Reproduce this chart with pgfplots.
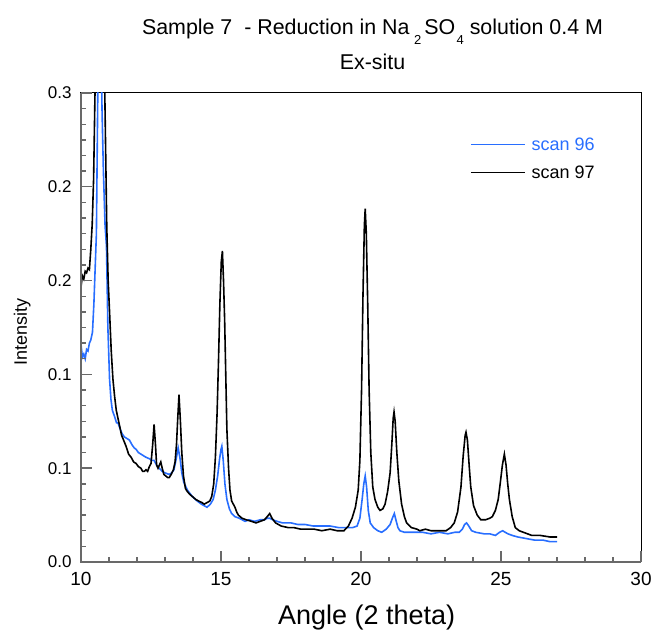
\documentclass[border=0pt]{standalone}
\usepackage{fontspec}
\setmainfont{Liberation Sans}
\usepackage{pgfplots}
\pgfplotsset{compat=1.18}
\definecolor{scanblue}{RGB}{40,110,255}
\definecolor{axgray}{RGB}{105,105,105}
\begin{document}
\begin{tikzpicture}
\begin{axis}[
  scale only axis, width=280pt, height=234.5pt,
  xmin=10, xmax=30, ymin=0, ymax=0.3,
  clip mode=individual,
  xtick={10,15,20,25,30}, ytick={0,0.06,0.12,0.18,0.24,0.3},
  minor x tick num=4, minor y tick num=5,
  tick align=inside, xtick pos=left, ytick pos=left,
  major tick length=5.5pt, minor tick length=2.6pt,
  every tick/.style={draw=axgray, line width=0.7pt},
  axis line style={black, line width=0.5pt},
  yticklabel style={/pgf/number format/fixed, /pgf/number format/precision=1, /pgf/number format/fixed zerofill,
    /pgf/number format/assume math mode=true, font=\fontsize{8.5}{10}\selectfont, xshift=-1.2pt},
  xticklabel style={/pgf/number format/assume math mode=true, font=\fontsize{9.5}{11}\selectfont, yshift=-1.8pt},
  xlabel={Angle (2 theta)},
  xlabel style={font=\fontsize{13.5}{15}\selectfont, at={(axis description cs:0.51,-0.1343)}, anchor=base},
  ylabel={Intensity},
  ylabel style={font=\fontsize{9}{10}\selectfont, at={(axis description cs:-0.105,0.49)}, anchor=center},
  legend style={draw=none, fill=none, at={(axis description cs:0.694,0.908)}, anchor=north west,
    font=\fontsize{9}{10}\selectfont, inner sep=0pt, row sep=5pt, column sep=3pt,
    nodes={text height=7pt, text depth=2pt, inner sep=0pt}},
  legend cell align=left,
  legend image code/.code={\draw[#1] (0pt,0.5pt) -- (27pt,0.5pt);},
]
\coordinate (ll) at (rel axis cs:0,0);
\coordinate (ur) at (rel axis cs:1,1);
\coordinate (tc) at (rel axis cs:0.5,1);
\addplot[scanblue, line width=0.8pt] coordinates {
(10.00,0.139) (10.05,0.131) (10.10,0.133) (10.15,0.130) (10.20,0.136) (10.25,0.135)
(10.30,0.140) (10.35,0.142) (10.41,0.147) (10.46,0.165) (10.51,0.190) (10.55,0.210)
(10.60,0.300) (10.64,0.38) (10.68,0.42) (10.72,0.33) (10.75,0.290) (10.80,0.250)
(10.86,0.215) (10.91,0.202) (10.96,0.150) (11.02,0.117) (11.07,0.104) (11.12,0.097)
(11.20,0.093) (11.27,0.089) (11.32,0.089) (11.40,0.085) (11.47,0.082) (11.55,0.080)
(11.64,0.079) (11.73,0.078) (11.82,0.075) (11.90,0.073) (11.97,0.072) (12.05,0.070)
(12.14,0.069) (12.23,0.068) (12.32,0.067) (12.45,0.066) (12.53,0.065) (12.61,0.065)
(12.70,0.062) (12.79,0.060) (12.90,0.058) (13.00,0.057) (13.15,0.056) (13.24,0.057)
(13.32,0.059) (13.40,0.066) (13.47,0.073) (13.54,0.066) (13.60,0.057) (13.67,0.051)
(13.80,0.046) (13.97,0.042) (14.15,0.039) (14.30,0.037) (14.50,0.035) (14.62,0.037)
(14.72,0.040) (14.80,0.046) (14.88,0.055) (14.95,0.066) (15.00,0.072) (15.03,0.074)
(15.08,0.065) (15.14,0.050) (15.21,0.040) (15.30,0.034) (15.38,0.031) (15.50,0.029)
(15.65,0.028) (15.86,0.026) (16.00,0.027) (16.20,0.026) (16.40,0.027) (16.55,0.027)
(16.65,0.028) (16.74,0.028) (16.85,0.027) (17.00,0.026) (17.20,0.025) (17.50,0.025)
(17.74,0.024) (18.00,0.024) (18.30,0.023) (18.60,0.023) (18.90,0.023) (19.20,0.022)
(19.50,0.022) (19.70,0.022) (19.86,0.023) (19.96,0.028) (20.04,0.040) (20.10,0.050)
(20.15,0.055) (20.20,0.048) (20.26,0.033) (20.33,0.025) (20.45,0.022) (20.60,0.020)
(20.74,0.019) (20.90,0.021) (21.04,0.024) (21.12,0.028) (21.19,0.031) (21.26,0.026)
(21.32,0.022) (21.39,0.020) (21.55,0.019) (21.86,0.019) (22.20,0.019) (22.50,0.018)
(22.80,0.019) (23.10,0.018) (23.35,0.019) (23.51,0.019) (23.62,0.021) (23.70,0.024)
(23.77,0.025) (23.85,0.023) (23.95,0.020) (24.10,0.019) (24.40,0.018) (24.60,0.018)
(24.80,0.017) (24.95,0.019) (25.06,0.020) (25.15,0.019) (25.25,0.018) (25.40,0.017)
(25.60,0.016) (25.90,0.015) (26.20,0.014) (26.50,0.014) (26.75,0.013) (27.00,0.013)
};
\addlegendentry{\textcolor{scanblue}{scan 96}}
\addplot[black, line width=0.8pt] coordinates {
(10.00,0.176) (10.05,0.183) (10.10,0.181) (10.15,0.186) (10.20,0.185) (10.25,0.188)
(10.30,0.187) (10.35,0.200) (10.40,0.216) (10.45,0.245) (10.50,0.300) (10.55,0.38)
(10.62,0.45) (10.70,0.45) (10.78,0.38) (10.85,0.300) (10.92,0.215) (10.97,0.180)
(11.02,0.160) (11.08,0.135) (11.14,0.117) (11.20,0.106) (11.26,0.097) (11.32,0.092)
(11.38,0.087) (11.45,0.081) (11.52,0.078) (11.61,0.074) (11.70,0.069) (11.79,0.067)
(11.88,0.064) (11.97,0.063) (12.05,0.061) (12.14,0.060) (12.20,0.058) (12.26,0.058)
(12.32,0.059) (12.38,0.058) (12.44,0.061) (12.50,0.063) (12.56,0.075) (12.61,0.088)
(12.66,0.075) (12.70,0.062) (12.75,0.060) (12.80,0.062) (12.85,0.064) (12.90,0.060)
(12.96,0.056) (13.03,0.055) (13.10,0.054) (13.15,0.054) (13.22,0.056) (13.30,0.059)
(13.36,0.064) (13.41,0.075) (13.45,0.090) (13.50,0.107) (13.55,0.090) (13.60,0.070)
(13.66,0.055) (13.73,0.047) (13.80,0.045) (13.90,0.043) (13.97,0.042) (14.10,0.040)
(14.20,0.039) (14.32,0.038) (14.40,0.037) (14.50,0.038) (14.60,0.039) (14.67,0.042)
(14.74,0.050) (14.80,0.067) (14.86,0.095) (14.91,0.128) (14.96,0.165) (15.01,0.192)
(15.05,0.199) (15.09,0.180) (15.13,0.155) (15.17,0.120) (15.21,0.085) (15.27,0.060)
(15.32,0.046) (15.38,0.039) (15.44,0.037) (15.50,0.035) (15.56,0.032) (15.62,0.030)
(15.75,0.028) (15.90,0.027) (16.09,0.026) (16.25,0.025) (16.40,0.026) (16.55,0.027)
(16.65,0.029) (16.74,0.031) (16.82,0.028) (16.95,0.025) (17.15,0.023) (17.40,0.022)
(17.60,0.022) (17.85,0.021) (18.10,0.021) (18.33,0.021) (18.60,0.020) (18.90,0.021)
(19.15,0.020) (19.39,0.020) (19.55,0.023) (19.68,0.028) (19.80,0.035) (19.90,0.046)
(19.96,0.065) (20.02,0.110) (20.07,0.170) (20.12,0.215) (20.15,0.226) (20.19,0.210)
(20.24,0.165) (20.29,0.110) (20.35,0.070) (20.42,0.048) (20.50,0.040) (20.60,0.035)
(20.68,0.033) (20.78,0.034) (20.86,0.037) (20.95,0.045) (21.04,0.057) (21.10,0.075)
(21.15,0.092) (21.18,0.096) (21.22,0.090) (21.28,0.070) (21.35,0.052) (21.45,0.037)
(21.55,0.029) (21.63,0.025) (21.80,0.022) (22.00,0.021) (22.10,0.020) (22.30,0.021)
(22.50,0.020) (22.75,0.020) (23.04,0.020) (23.20,0.022) (23.33,0.025) (23.45,0.032)
(23.57,0.048) (23.65,0.068) (23.72,0.081) (23.75,0.083) (23.80,0.078) (23.87,0.060)
(23.92,0.048) (24.02,0.036) (24.15,0.030) (24.28,0.027) (24.45,0.027) (24.60,0.028)
(24.69,0.029) (24.80,0.033) (24.90,0.040) (24.97,0.050) (25.05,0.062) (25.12,0.069)
(25.18,0.062) (25.24,0.050) (25.30,0.040) (25.40,0.029) (25.51,0.022) (25.65,0.020)
(25.80,0.019) (26.10,0.017) (26.40,0.017) (26.75,0.016) (27.00,0.016)
};
\addlegendentry{scan 97}
\pgfplotsinvokeforeach{11,12,13,14,16,17,18,19,21,22,23,24,26,27,28,29}{
  \draw[axgray, line width=0.6pt] (axis cs:#1,0) -- ++(0pt,2.6pt);}
\pgfplotsinvokeforeach{10,15,20,25,30}{
  \draw[axgray, line width=0.7pt] (axis cs:#1,0) -- ++(0pt,5.5pt);}
\pgfplotsinvokeforeach{0.01,0.02,0.03,0.04,0.05,0.07,0.08,0.09,0.10,0.11,0.13,0.14,0.15,0.16,0.17,0.19,0.20,0.21,0.22,0.23,0.25,0.26,0.27,0.28,0.29}{
  \draw[axgray, line width=0.6pt] (axis cs:10,#1) -- ++(2.6pt,0pt);}
\pgfplotsinvokeforeach{0,0.06,0.12,0.18,0.24,0.3}{
  \draw[axgray, line width=0.7pt] (axis cs:10,#1) -- ++(5.5pt,0pt);}
\draw[axgray, line width=1pt] (rel axis cs:0,1) -- (rel axis cs:0,0) -- (rel axis cs:1,0);
\end{axis}
\node[anchor=base, font=\fontsize{10.7}{12}\selectfont] at ([xshift=5.75pt,yshift=29pt]tc) {Sample 7\ \ - Reduction in Na\hspace{2.2pt}\raisebox{-4.6pt}{\fontsize{6.5}{7}\selectfont 2}\hspace{1.6pt}SO\hspace{0.6pt}\raisebox{-4.6pt}{\fontsize{6.5}{7}\selectfont 4} solution 0.4 M};
\node[anchor=base, font=\fontsize{10.7}{12}\selectfont] at ([xshift=5.75pt,yshift=11.5pt]tc) {Ex-situ};
\pgfresetboundingbox
\path ([shift={(-40.5pt,-34.5pt)}]ll) rectangle ([shift={(6pt,46.5pt)}]ur);
\end{tikzpicture}
\end{document}
